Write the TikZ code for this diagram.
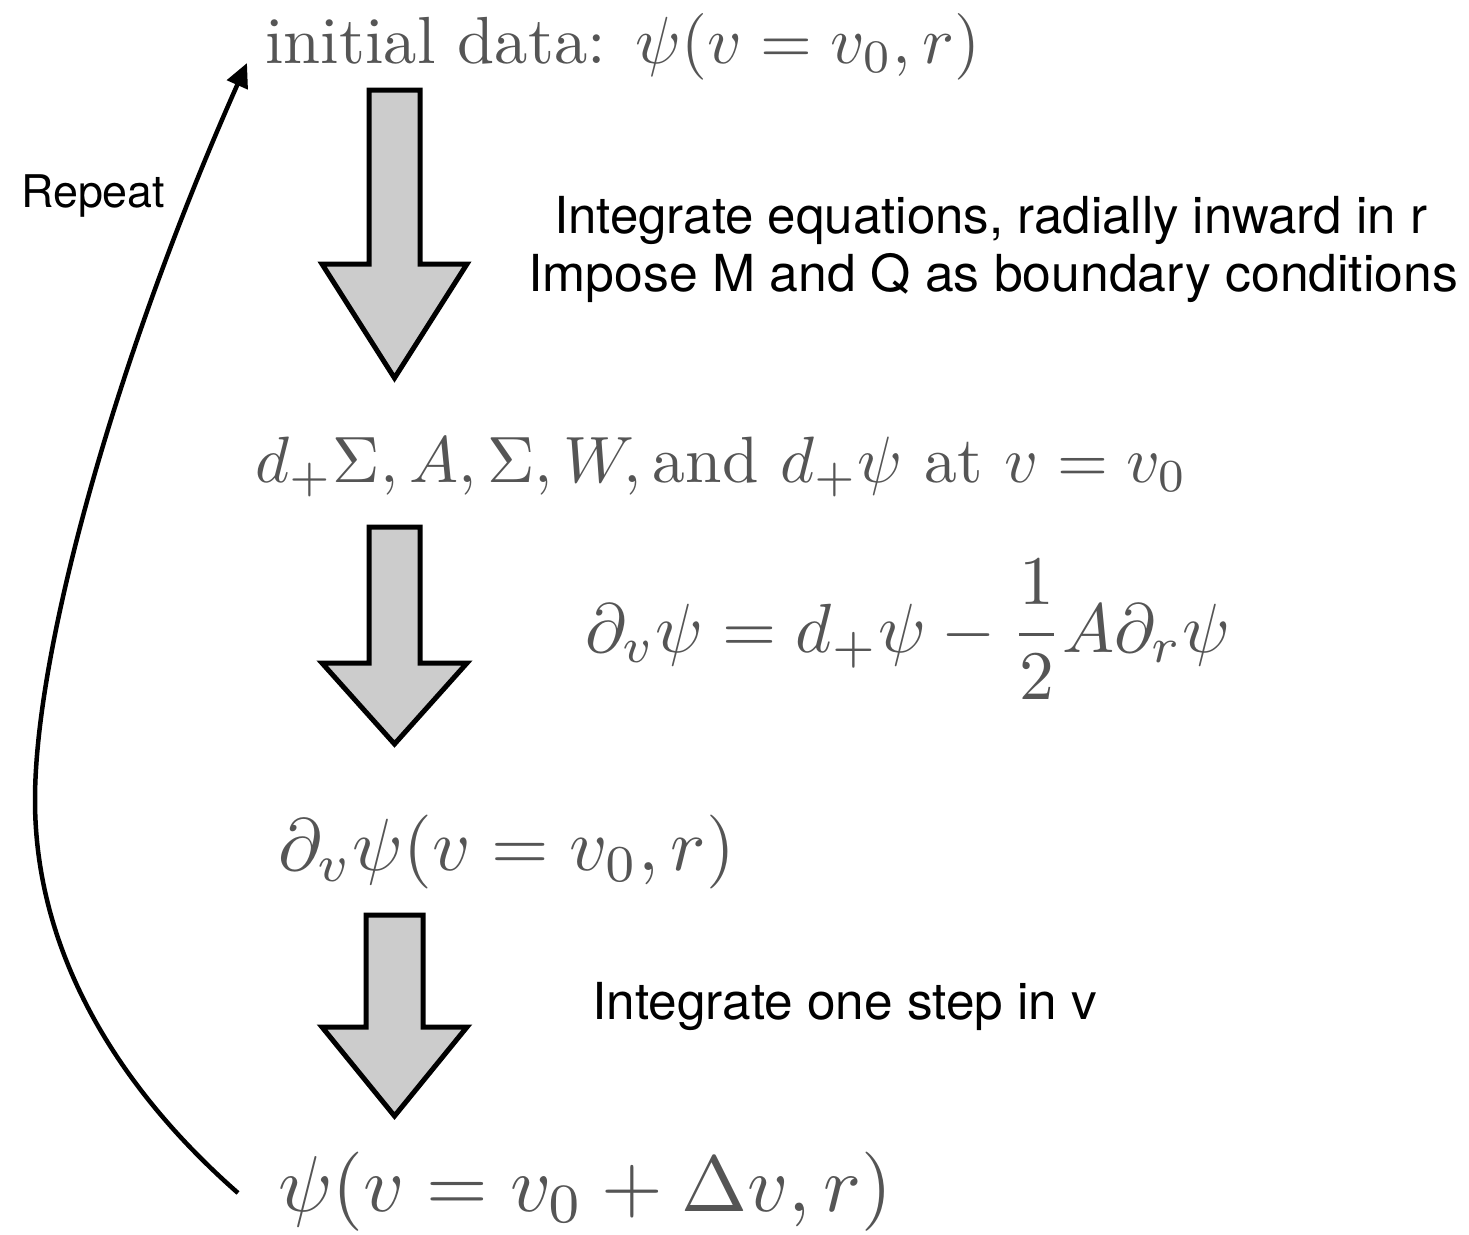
\documentclass[tikz,border=0pt]{standalone}
\usepackage{fontspec}
\setsansfont{TeX Gyre Heros}
\usepackage{graphicx}
\usetikzlibrary{arrows.meta}
\definecolor{mathgray}{HTML}{555555}
\definecolor{arrowfill}{HTML}{CCCCCC}
\begin{document}
\begin{tikzpicture}[x=1pt,y=-1pt,
  mathtxt/.style={inner sep=0pt, text=mathgray, anchor=base west},
  sanstxt/.style={inner sep=0pt, text=black, anchor=base west, font=\fontsize{51}{60}\selectfont\sffamily},
  blockarrow/.style={draw=black, fill=arrowfill, line width=5pt, line join=miter},
  loopline/.style={draw=black, line width=4.5pt, -{Triangle[length=24pt,width=22pt]}}]
\useasboundingbox (0,0) rectangle (1469,1234);
% math texts
\node[mathtxt] (init) at (265,63) {\resizebox{715pt}{!}{initial data: $\psi(v=v_0,r)$}};
\node[mathtxt] (fields) at (255,482) {\resizebox{932pt}{!}{$d_+\Sigma, A, \Sigma, W, \mathrm{and}\ d_+\psi\ \mathrm{at}\ v = v_0$}};
\node[mathtxt] (eq) at (585,652) {\resizebox{645pt}{!}{$\displaystyle \partial_v\psi = d_+\psi - \frac{1}{2}A\partial_r\psi$}};
\node[mathtxt] (dpsi) at (278,870) {\resizebox{457pt}{!}{$\partial_v\psi(v=v_0,r)$}};
\node[mathtxt] (newpsi) at (278,1211) {\resizebox{614pt}{!}{$\psi(v=v_0+\Delta v,r)$}};
% sans texts
\node[sanstxt] (t1) at (554,233) {\resizebox{873pt}{\height}{Integrate equations, radially inward in r}};
\node[sanstxt] (t2) at (528,291) {\resizebox{930pt}{\height}{Impose M and Q as boundary conditions}};
\node[sanstxt] (t3) at (592,1019) {\resizebox{505pt}{\height}{Integrate one step in v}};
\node[sanstxt, font=\fontsize{45}{54}\selectfont\sffamily] (rep) at (21,207) {\resizebox{144pt}{\height}{Repeat}};
% block arrows
\draw[blockarrow] (369,90) -- (420,90) -- (420,264) -- (467,264) -- (394.5,378) -- (322,264) -- (369,264) -- cycle;
\draw[blockarrow] (369,527) -- (420,527) -- (420,663) -- (467,663) -- (394.5,744) -- (322,663) -- (369,663) -- cycle;
\draw[blockarrow] (366,915) -- (423,915) -- (423,1027) -- (467,1027) -- (394.5,1116) -- (322,1027) -- (366,1027) -- cycle;
% repeat loop
\coordinate (rstart) at (238,1193);
\coordinate (rend) at (247,63);
\draw[loopline] (rstart) .. controls (115,1085) and (35,950) .. (35,800) .. controls (35,650) and (115,360) .. (rend);
\end{tikzpicture}
\end{document}
